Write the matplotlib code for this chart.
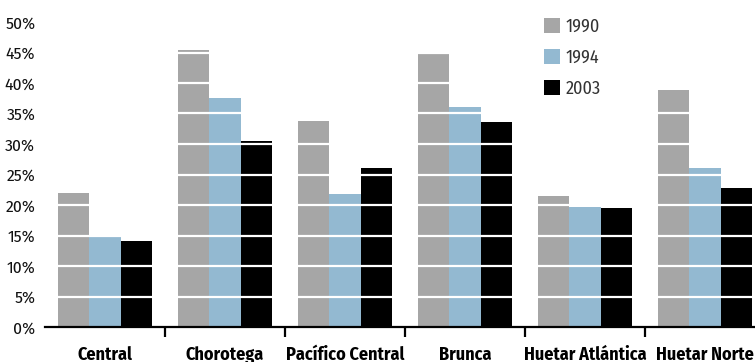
import matplotlib
matplotlib.use("Agg")
import matplotlib.pyplot as plt
import numpy as np
from matplotlib.ticker import FixedLocator, PercentFormatter

regions = ["Central", "Chorotega", "Pacífico Central", "Brunca",
           "Huetar Atlántica", "Huetar Norte"]
years = ["1990", "1994", "2003"]
v1990 = [22.0, 45.4, 33.8, 45.1, 21.5, 38.9]
v1994 = [14.8, 37.5, 21.8, 36.1, 19.7, 26.1]
v2003 = [14.1, 30.5, 26.1, 33.6, 19.5, 22.8]
colors = ["#a6a6a6", "#93b9d1", "#000000"]

narrow = ["Fira Sans Condensed", "DejaVu Sans"]

fig = plt.figure(figsize=(7.55, 3.62), dpi=100)
ax = fig.add_axes([45 / 755, 35 / 362, 720 / 755, 305 / 362])

x = np.arange(len(regions))
w = 0.262
series = [v1990, v1994, v2003]
for i, (vals, col, lab) in enumerate(zip(series, colors, years)):
    ax.bar(x + (i - 1) * w, vals, width=w, color=col, label=lab,
           zorder=2, linewidth=0)

ax.set_xlim(-0.5, len(regions) - 0.5)
ax.set_ylim(0, 50)

# white grid lines over the bars
for yv in np.arange(5, 50, 5):
    ax.axhline(yv, color="white", lw=1.6, zorder=3)

for s in ["top", "right", "left"]:
    ax.spines[s].set_visible(False)
ax.spines["bottom"].set_linewidth(1.6)
ax.spines["bottom"].set_zorder(4)

ax.yaxis.set_major_locator(FixedLocator(np.arange(0, 51, 5)))
ax.yaxis.set_major_formatter(PercentFormatter(decimals=0))
ax.tick_params(axis="y", length=0, pad=7)
for t in ax.get_yticklabels():
    t.set_fontfamily(narrow)
    t.set_fontstretch("condensed")
    t.set_fontsize(12.5)
    t.set_color("#111111")

ax.set_xticks(x)
ax.set_xticklabels(regions, fontfamily=narrow, fontstretch="condensed",
                   fontweight="bold", fontsize=13)
ax.tick_params(axis="x", which="major", length=0, pad=14)
ax.xaxis.set_minor_locator(FixedLocator(x[:-1] + 0.5))
ax.tick_params(axis="x", which="minor", length=7, width=1.6,
               direction="out", color="black")

fig.legend(loc="upper left", bbox_to_anchor=(544 / 755, 1 - 18 / 362),
           frameon=False, borderpad=0, borderaxespad=0,
           handlelength=0.9, handleheight=0.9, handletextpad=0.3,
           labelspacing=0.72,
           prop={"family": narrow, "stretch": "condensed", "size": 13},
           labelcolor="#333333")

fig.savefig("out.png", dpi=100)
